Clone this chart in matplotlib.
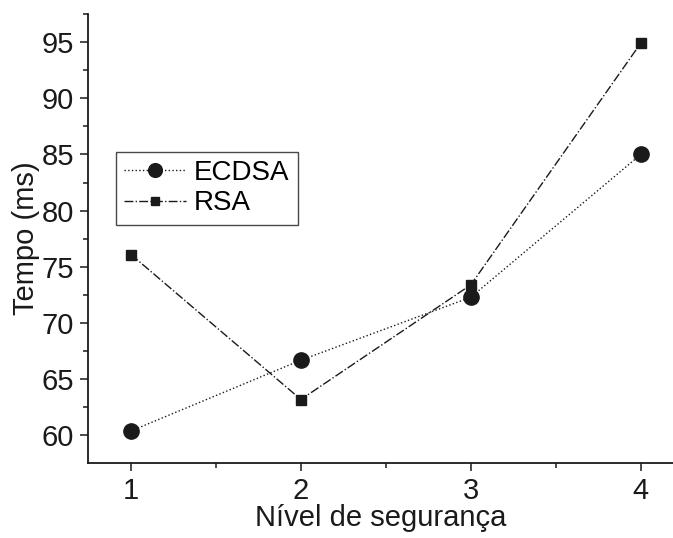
import matplotlib
matplotlib.use("Agg")
import matplotlib.pyplot as plt
from matplotlib.ticker import MultipleLocator

plt.rcParams['font.family'] = ['Liberation Sans', 'DejaVu Sans']

niveis = [1, 2, 3, 4]
ecdsa = [60.4, 66.7, 72.3, 85.0]
rsa = [76.1, 63.2, 73.4, 94.9]

fig = plt.figure(figsize=(6.73, 5.38), dpi=100)
ax = fig.add_axes([0.1308, 0.1394, 0.8692, 0.8346])

ax.plot(niveis, ecdsa, linestyle=':', color='#1a1a1a', linewidth=1.0,
        marker='o', markersize=11, label='ECDSA')
ax.plot(niveis, rsa, linestyle='-.', color='#1a1a1a', linewidth=1.0,
        marker='s', markersize=7, label='RSA')

ax.set_xlim(0.747, 4.19)
ax.set_ylim(57.55, 97.5)
ax.xaxis.set_major_locator(MultipleLocator(1))
ax.xaxis.set_minor_locator(MultipleLocator(0.5))
ax.yaxis.set_major_locator(MultipleLocator(5))
ax.yaxis.set_minor_locator(MultipleLocator(2.5))

for s in ['top', 'right']:
    ax.spines[s].set_visible(False)
for s in ['left', 'bottom']:
    ax.spines[s].set_linewidth(1.3)
    ax.spines[s].set_color('#1a1a1a')

ax.tick_params(which='major', direction='out', length=6, width=1.1,
               labelsize=21, pad=4, colors='#1a1a1a')
ax.tick_params(which='minor', direction='out', length=3.5, width=1.1,
               colors='#1a1a1a')

ax.set_xlabel('Nível de segurança', fontsize=21, labelpad=-1, color='#1a1a1a')
ax.set_ylabel('Tempo (ms)', fontsize=21, labelpad=1, color='#1a1a1a')

leg = ax.legend(loc='upper left', bbox_to_anchor=(0.048, 0.693),
                borderaxespad=0, fontsize=20, frameon=True, fancybox=False,
                edgecolor='#1a1a1a', handlelength=2.2, handletextpad=0.3,
                borderpad=0.3, labelspacing=0.15, markerscale=0.9)
leg.get_frame().set_linewidth(1.0)

fig.savefig('out.png', dpi=100)
